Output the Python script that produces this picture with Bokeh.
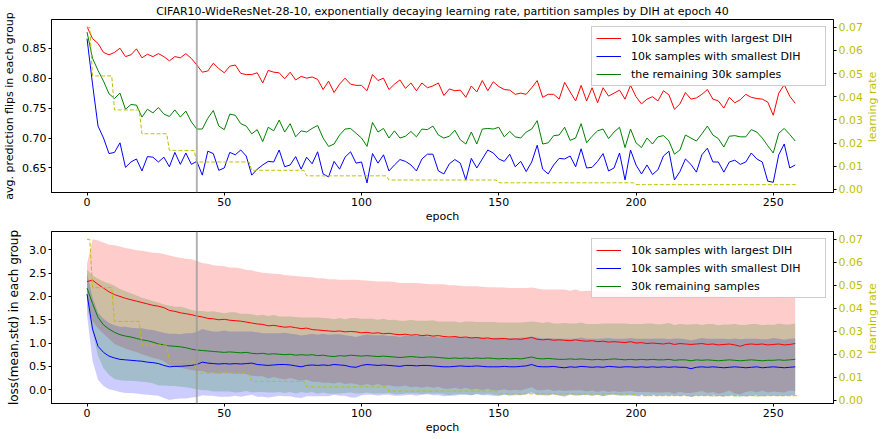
import math
import numpy as np
from bokeh.plotting import figure
from bokeh.models import (Range1d, LinearAxis, Span, Legend, LegendItem,
                          FixedTicker, PrintfTickFormatter)
from bokeh.core.properties import value
from bokeh.layouts import column, row
from bokeh.embed import file_html
from bokeh.resources import INLINE

FONT = "DejaVu Sans"
TITLE = ("CIFAR10-WideResNet-28-10, exponentially decaying learning rate, "
         "partition samples by DIH at epoch 40")
PARTITION_EPOCH = 40
N_EPOCHS = 260

# ---- learning-rate schedule (step decay) ----
LR_STEP_EPOCHS = [0, 2, 10, 20, 30, 40, 60, 80, 110, 150, 200]
LR_STEP_VALUES = [0.07, 0.049, 0.0343, 0.024, 0.0168, 0.0118, 0.0082, 0.0058, 0.004, 0.0028, 0.002]
LR_TICKS = [0.00, 0.01, 0.02, 0.03, 0.04, 0.05, 0.06, 0.07]

# ---- per-group measurements, every 2 epochs (0, 2, ..., 258) ----
EPOCHS = list(range(0, 259, 2))

# average prediction flips
FLIPS_LARGEST = [
    0.886, 0.866, 0.858, 0.843, 0.839, 0.843, 0.850, 0.836, 0.839, 0.849,
    0.834, 0.840, 0.836, 0.841, 0.836, 0.829, 0.836, 0.834, 0.841, 0.833,
    0.822, 0.810, 0.812, 0.825, 0.816, 0.809, 0.820, 0.822, 0.808, 0.806,
    0.806, 0.809, 0.792, 0.813, 0.810, 0.809, 0.799, 0.810, 0.797, 0.803,
    0.800, 0.802, 0.798, 0.781, 0.795, 0.776, 0.790, 0.800, 0.790, 0.788,
    0.788, 0.779, 0.806, 0.796, 0.800, 0.781, 0.790, 0.797, 0.783, 0.792,
    0.779, 0.792, 0.784, 0.787, 0.792, 0.771, 0.782, 0.779, 0.780, 0.768,
    0.787, 0.777, 0.796, 0.779, 0.794, 0.786, 0.781, 0.780, 0.773, 0.775,
    0.773, 0.784, 0.796, 0.768, 0.773, 0.773, 0.765, 0.793, 0.777, 0.762,
    0.788, 0.762, 0.784, 0.759, 0.784, 0.770, 0.775, 0.780, 0.765, 0.788,
    0.769, 0.757, 0.765, 0.769, 0.762, 0.779, 0.772, 0.748, 0.757, 0.776,
    0.765, 0.767, 0.773, 0.781, 0.765, 0.762, 0.750, 0.768, 0.759, 0.764,
    0.773, 0.768, 0.766, 0.765, 0.760, 0.738, 0.775, 0.789, 0.770, 0.758,
]
FLIPS_SMALLEST = [
    0.866, 0.790, 0.720, 0.700, 0.674, 0.676, 0.692, 0.651, 0.660, 0.665,
    0.645, 0.669, 0.668, 0.660, 0.668, 0.652, 0.676, 0.656, 0.675, 0.656,
    0.661, 0.638, 0.678, 0.674, 0.646, 0.650, 0.676, 0.672, 0.680, 0.670,
    0.638, 0.648, 0.655, 0.661, 0.660, 0.680, 0.652, 0.655, 0.669, 0.648,
    0.668, 0.657, 0.677, 0.640, 0.635, 0.661, 0.648, 0.668, 0.677, 0.658,
    0.660, 0.625, 0.674, 0.658, 0.672, 0.645, 0.655, 0.664, 0.661, 0.655,
    0.645, 0.665, 0.673, 0.673, 0.645, 0.640, 0.657, 0.664, 0.658, 0.630,
    0.666, 0.650, 0.665, 0.680, 0.675, 0.665, 0.661, 0.673, 0.652, 0.661,
    0.644, 0.660, 0.688, 0.648, 0.640, 0.655, 0.666, 0.665, 0.670, 0.652,
    0.682, 0.650, 0.651, 0.661, 0.674, 0.645, 0.650, 0.675, 0.630, 0.680,
    0.655, 0.640, 0.655, 0.639, 0.647, 0.670, 0.678, 0.630, 0.644, 0.665,
    0.656, 0.643, 0.672, 0.683, 0.660, 0.660, 0.643, 0.660, 0.663, 0.656,
    0.660, 0.675, 0.665, 0.660, 0.628, 0.626, 0.672, 0.690, 0.650, 0.655,
]
FLIPS_REMAINING = [
    0.877, 0.833, 0.813, 0.795, 0.774, 0.766, 0.775, 0.748, 0.756, 0.755,
    0.735, 0.748, 0.742, 0.751, 0.740, 0.736, 0.747, 0.735, 0.745, 0.727,
    0.715, 0.715, 0.733, 0.746, 0.720, 0.714, 0.740, 0.738, 0.724, 0.720,
    0.707, 0.714, 0.694, 0.718, 0.712, 0.730, 0.710, 0.724, 0.702, 0.712,
    0.710, 0.716, 0.721, 0.700, 0.686, 0.690, 0.705, 0.715, 0.716, 0.708,
    0.700, 0.686, 0.726, 0.710, 0.716, 0.700, 0.712, 0.700, 0.703, 0.711,
    0.702, 0.715, 0.714, 0.720, 0.705, 0.700, 0.703, 0.713, 0.697, 0.690,
    0.710, 0.690, 0.715, 0.716, 0.715, 0.718, 0.702, 0.711, 0.702, 0.700,
    0.710, 0.715, 0.729, 0.690, 0.692, 0.704, 0.705, 0.718, 0.696, 0.700,
    0.724, 0.692, 0.703, 0.712, 0.715, 0.699, 0.710, 0.718, 0.684, 0.715,
    0.692, 0.684, 0.700, 0.690, 0.702, 0.704, 0.695, 0.673, 0.680, 0.705,
    0.700, 0.695, 0.707, 0.720, 0.705, 0.699, 0.685, 0.703, 0.704, 0.702,
    0.702, 0.714, 0.710, 0.700, 0.687, 0.675, 0.708, 0.716, 0.706, 0.695,
]

# loss mean per group
LOSS_MEAN_LARGEST = [
    2.32, 2.35, 2.26, 2.18, 2.10, 2.04, 2.00, 1.96, 1.93, 1.90,
    1.87, 1.84, 1.81, 1.79, 1.76, 1.70, 1.68, 1.65, 1.63, 1.61,
    1.58, 1.56, 1.53, 1.52, 1.50, 1.51, 1.49, 1.48, 1.47, 1.45,
    1.43, 1.41, 1.40, 1.37, 1.38, 1.36, 1.34, 1.35, 1.33, 1.31,
    1.32, 1.29, 1.28, 1.27, 1.26, 1.25, 1.26, 1.24, 1.25, 1.24,
    1.22, 1.23, 1.21, 1.22, 1.20, 1.21, 1.19, 1.18, 1.19, 1.17,
    1.18, 1.16, 1.17, 1.15, 1.16, 1.14, 1.13, 1.14, 1.12, 1.13,
    1.11, 1.12, 1.10, 1.11, 1.09, 1.09, 1.10, 1.08, 1.09, 1.08,
    1.10, 1.12, 1.08, 1.07, 1.08, 1.06, 1.07, 1.06, 1.05, 1.07,
    1.05, 1.04, 1.05, 1.03, 1.04, 1.02, 1.03, 1.02, 1.01, 1.03,
    1.00, 1.01, 0.99, 1.00, 0.99, 0.98, 1.00, 0.97, 0.99, 0.98,
    0.97, 0.98, 0.99, 0.97, 0.98, 0.96, 0.97, 0.98, 0.96, 0.93,
    0.97, 0.98, 0.97, 0.98, 0.96, 0.97, 0.98, 0.96, 0.97, 0.99,
]
LOSS_MEAN_SMALLEST = [
    2.05, 1.30, 0.93, 0.80, 0.72, 0.68, 0.65, 0.64, 0.63, 0.62,
    0.61, 0.59, 0.58, 0.56, 0.52, 0.49, 0.50, 0.50, 0.51, 0.52,
    0.54, 0.59, 0.57, 0.56, 0.55, 0.56, 0.55, 0.56, 0.55, 0.56,
    0.57, 0.54, 0.53, 0.52, 0.53, 0.54, 0.54, 0.53, 0.51, 0.49,
    0.52, 0.53, 0.52, 0.53, 0.52, 0.54, 0.53, 0.52, 0.49, 0.48,
    0.52, 0.54, 0.53, 0.52, 0.53, 0.52, 0.51, 0.50, 0.52, 0.52,
    0.51, 0.52, 0.52, 0.51, 0.50, 0.49, 0.49, 0.50, 0.51, 0.50,
    0.50, 0.51, 0.50, 0.49, 0.49, 0.49, 0.50, 0.49, 0.49, 0.50,
    0.51, 0.54, 0.50, 0.49, 0.49, 0.50, 0.48, 0.47, 0.49, 0.48,
    0.50, 0.49, 0.48, 0.49, 0.48, 0.50, 0.49, 0.48, 0.49, 0.49,
    0.48, 0.49, 0.48, 0.49, 0.48, 0.49, 0.48, 0.49, 0.48, 0.48,
    0.45, 0.48, 0.49, 0.48, 0.49, 0.48, 0.47, 0.48, 0.49, 0.48,
    0.47, 0.48, 0.49, 0.47, 0.48, 0.49, 0.48, 0.47, 0.48, 0.49,
]
LOSS_MEAN_REMAINING = [
    2.18, 1.85, 1.55, 1.39, 1.30, 1.23, 1.18, 1.15, 1.13, 1.10,
    1.07, 1.05, 1.02, 0.98, 0.96, 0.94, 0.93, 0.92, 0.90, 0.87,
    0.85, 0.84, 0.83, 0.82, 0.81, 0.80, 0.81, 0.80, 0.79, 0.80,
    0.78, 0.77, 0.78, 0.76, 0.77, 0.76, 0.75, 0.76, 0.74, 0.75,
    0.74, 0.75, 0.73, 0.74, 0.72, 0.71, 0.73, 0.72, 0.74, 0.73,
    0.72, 0.73, 0.72, 0.71, 0.72, 0.71, 0.70, 0.69, 0.70, 0.71,
    0.70, 0.69, 0.70, 0.70, 0.69, 0.68, 0.67, 0.68, 0.67, 0.68,
    0.67, 0.68, 0.67, 0.68, 0.67, 0.66, 0.67, 0.66, 0.67, 0.66,
    0.68, 0.70, 0.67, 0.66, 0.67, 0.66, 0.65, 0.65, 0.66, 0.65,
    0.66, 0.65, 0.64, 0.65, 0.64, 0.65, 0.66, 0.65, 0.64, 0.65,
    0.64, 0.65, 0.64, 0.65, 0.64, 0.64, 0.65, 0.63, 0.64, 0.64,
    0.62, 0.64, 0.63, 0.64, 0.63, 0.62, 0.63, 0.64, 0.63, 0.62,
    0.63, 0.64, 0.63, 0.62, 0.63, 0.63, 0.64, 0.63, 0.64, 0.65,
]

# loss standard deviation per group
LOSS_STD_LARGEST = [
    0.38, 0.88, 0.94, 0.98, 1.01, 1.06, 1.07, 1.08, 1.09, 1.09,
    1.11, 1.12, 1.13, 1.14, 1.15, 1.18, 1.17, 1.18, 1.18, 1.19,
    1.18, 1.16, 1.17, 1.15, 1.16, 1.14, 1.13, 1.14, 1.13, 1.12,
    1.13, 1.12, 1.11, 1.13, 1.11, 1.12, 1.12, 1.10, 1.11, 1.12,
    1.10, 1.12, 1.11, 1.12, 1.11, 1.12, 1.10, 1.12, 1.11, 1.12,
    1.13, 1.11, 1.12, 1.10, 1.12, 1.11, 1.12, 1.11, 1.10, 1.12,
    1.11, 1.12, 1.10, 1.11, 1.10, 1.12, 1.11, 1.10, 1.11, 1.09,
    1.11, 1.10, 1.11, 1.09, 1.11, 1.10, 1.09, 1.10, 1.09, 1.10,
    1.08, 1.07, 1.09, 1.08, 1.07, 1.09, 1.08, 1.09, 1.07, 1.08,
    1.06, 1.08, 1.07, 1.08, 1.06, 1.07, 1.06, 1.07, 1.05, 1.06,
    1.05, 1.06, 1.04, 1.06, 1.05, 1.04, 1.05, 1.06, 1.03, 1.05,
    1.04, 1.03, 1.02, 1.04, 1.03, 1.05, 1.03, 1.00, 1.04, 1.03,
    1.02, 1.01, 1.03, 1.00, 1.02, 1.01, 1.03, 1.02, 0.99, 1.02,
]
LOSS_STD_SMALLEST = [
    0.45, 0.68, 0.72, 0.72, 0.71, 0.70, 0.70, 0.71, 0.70, 0.70,
    0.71, 0.70, 0.70, 0.69, 0.70, 0.71, 0.70, 0.69, 0.70, 0.69,
    0.70, 0.71, 0.70, 0.69, 0.70, 0.71, 0.70, 0.69, 0.70, 0.69,
    0.68, 0.69, 0.68, 0.69, 0.68, 0.67, 0.68, 0.67, 0.68, 0.67,
    0.66, 0.67, 0.66, 0.67, 0.66, 0.65, 0.66, 0.65, 0.66, 0.65,
    0.64, 0.65, 0.64, 0.65, 0.64, 0.63, 0.64, 0.63, 0.64, 0.63,
    0.64, 0.63, 0.62, 0.63, 0.62, 0.63, 0.62, 0.63, 0.62, 0.61,
    0.62, 0.61, 0.62, 0.61, 0.62, 0.63, 0.61, 0.62, 0.61, 0.62,
    0.61, 0.60, 0.62, 0.61, 0.62, 0.60, 0.61, 0.62, 0.60, 0.61,
    0.62, 0.60, 0.61, 0.60, 0.62, 0.61, 0.60, 0.61, 0.60, 0.62,
    0.61, 0.60, 0.61, 0.60, 0.62, 0.61, 0.60, 0.61, 0.62, 0.60,
    0.61, 0.60, 0.62, 0.61, 0.60, 0.61, 0.62, 0.60, 0.61, 0.60,
    0.62, 0.61, 0.60, 0.61, 0.60, 0.62, 0.61, 0.60, 0.61, 0.61,
]
LOSS_STD_REMAINING = [
    0.40, 0.60, 0.83, 0.93, 0.98, 1.00, 0.98, 0.96, 0.94, 0.92,
    0.90, 0.89, 0.88, 0.89, 0.87, 0.86, 0.85, 0.86, 0.85, 0.84,
    0.84, 0.85, 0.84, 0.86, 0.85, 0.84, 0.85, 0.86, 0.84, 0.83,
    0.84, 0.82, 0.83, 0.82, 0.83, 0.81, 0.82, 0.81, 0.82, 0.80,
    0.81, 0.80, 0.82, 0.80, 0.81, 0.80, 0.81, 0.79, 0.80, 0.81,
    0.80, 0.79, 0.80, 0.79, 0.80, 0.78, 0.80, 0.79, 0.78, 0.79,
    0.78, 0.79, 0.78, 0.79, 0.77, 0.78, 0.79, 0.78, 0.77, 0.78,
    0.79, 0.77, 0.78, 0.77, 0.78, 0.78, 0.77, 0.78, 0.77, 0.78,
    0.77, 0.76, 0.78, 0.77, 0.78, 0.76, 0.77, 0.78, 0.76, 0.77,
    0.78, 0.76, 0.77, 0.76, 0.78, 0.77, 0.76, 0.77, 0.78, 0.76,
    0.77, 0.76, 0.78, 0.77, 0.76, 0.77, 0.78, 0.76, 0.77, 0.76,
    0.78, 0.77, 0.76, 0.77, 0.78, 0.76, 0.77, 0.76, 0.78, 0.77,
    0.76, 0.77, 0.78, 0.76, 0.77, 0.76, 0.78, 0.77, 0.76, 0.77,
]

LABEL_LARGEST = "10k samples with largest DIH"
LABEL_SMALLEST = "10k samples with smallest DIH"
LABELS_REST = ["the remaining 30k samples", "30k remaining samples"]
LR_LABEL = "learning rate"
X_TICKS = [0, 50, 100, 150, 200, 250]
FLIP_TICKS = [0.65, 0.70, 0.75, 0.80, 0.85]
LOSS_TICKS = [0.0, 0.5, 1.0, 1.5, 2.0, 2.5, 3.0]

RED, BLUE, GREEN, OLIVE = "#ff0000", "#0000ff", "#008000", "#bfbf00"

X_RANGE = (-12.95, 271.95)
LR_RANGE = (-0.0014, 0.0734)

# page geometry (px): two stacked panels plus a narrow strip on the right
# that carries the "learning rate" titles, written bottom-to-top
PANEL_W, STRIP_W = 865, 18
TOP_H, BOTTOM_H = 225, 211
BORDER_L, BORDER_R = 51, 29
TOP_FRAME = (19, 194)          # frame top/bottom inside the upper panel
BOTTOM_TOP_PAD, AXIS_H = 6, 31

# learning rate for every epoch
lr_epochs = list(range(N_EPOCHS))
lr_per_epoch = []
for e in lr_epochs:
    k = max(i for i, s in enumerate(LR_STEP_EPOCHS) if s <= e)
    lr_per_epoch.append(LR_STEP_VALUES[k])


def style_axes(p, ylabel, ylabel_size, ylabel_standoff):
    p.xgrid.visible = False
    p.ygrid.visible = False
    p.outline_line_color = "black"
    p.outline_line_alpha = 1.0
    p.outline_line_width = 1
    p.background_fill_color = "white"
    p.border_fill_color = "white"
    p.xaxis.axis_label = "epoch"
    p.yaxis.axis_label = ylabel
    p.xaxis.ticker = FixedTicker(ticks=X_TICKS)
    for ax in p.xaxis + p.yaxis:
        ax.axis_line_color = "black"
        ax.major_tick_line_color = "black"
        ax.major_tick_in = 0
        ax.major_tick_out = 3
        ax.minor_tick_in = 0
        ax.minor_tick_out = 0
        ax.major_label_standoff = 2
        ax.major_label_text_font = FONT
        ax.major_label_text_font_size = "11px"
        ax.major_label_text_color = "black"
        ax.axis_label_text_font = FONT
        ax.axis_label_text_font_style = "normal"
        ax.axis_label_text_color = "black"
    p.xaxis.axis_label_text_font_size = "11px"
    p.xaxis.axis_label_standoff = 1
    p.yaxis.axis_label_text_font_size = ylabel_size
    p.yaxis.axis_label_standoff = ylabel_standoff


def add_lr_axis(p):
    p.extra_y_ranges = {"lr": Range1d(*LR_RANGE)}
    ax = LinearAxis(y_range_name="lr")
    ax.ticker = FixedTicker(ticks=LR_TICKS)
    ax.formatter = PrintfTickFormatter(format="%.2f")
    ax.axis_line_color = "black"
    ax.major_tick_line_color = "black"
    ax.major_tick_in = 0
    ax.major_tick_out = 3
    ax.minor_tick_in = 0
    ax.minor_tick_out = 0
    ax.major_label_standoff = 2
    ax.major_label_text_font = FONT
    ax.major_label_text_font_size = "11px"
    ax.major_label_text_color = OLIVE
    p.add_layout(ax, "right")
    p.line(lr_epochs, lr_per_epoch, y_range_name="lr", line_color=OLIVE,
           line_width=1, line_dash="4 2")


def add_partition_marker(p):
    p.add_layout(Span(location=PARTITION_EPOCH, dimension="height",
                      line_color="#999999", line_alpha=0.75, line_width=2))


def add_legend(p, renderers, labels):
    legend = Legend(
        items=[LegendItem(label=l, renderers=[r]) for l, r in zip(labels, renderers)],
        location="top_right",
        label_text_font=FONT, label_text_font_size="11px", label_text_color="black",
        border_line_color="#cccccc", border_line_alpha=1.0, border_line_width=1,
        background_fill_color="white", background_fill_alpha=0.85,
        margin=7, padding=4, spacing=4, label_height=14, glyph_height=14,
        glyph_width=25, label_standoff=10, label_width=190,
    )
    p.add_layout(legend)


# ---------- top: prediction flips ----------
p1 = figure(width=PANEL_W, height=TOP_H, output_backend="svg", toolbar_location=None,
            x_range=Range1d(*X_RANGE), y_range=Range1d(0.609, 0.898),
            min_border_left=BORDER_L, min_border_right=BORDER_R, min_border_top=0,
            min_border_bottom=0)
p1.title.text = TITLE
p1.title.align = "center"
p1.title.text_font = FONT
p1.title.text_font_size = "11px"
p1.title.text_font_style = "normal"
p1.title.text_color = "black"
p1.title.standoff = 4
style_axes(p1, "avg. prediction flips in each group", "11px", 3)
p1.yaxis[0].ticker = FixedTicker(ticks=FLIP_TICKS)
p1.yaxis[0].formatter = PrintfTickFormatter(format="%.2f")

add_partition_marker(p1)
r1 = p1.line(EPOCHS, FLIPS_LARGEST, line_color=RED, line_width=1)
r2 = p1.line(EPOCHS, FLIPS_SMALLEST, line_color=BLUE, line_width=1)
r3 = p1.line(EPOCHS, FLIPS_REMAINING, line_color=GREEN, line_width=1)
add_legend(p1, [r1, r2, r3], [LABEL_LARGEST, LABEL_SMALLEST, LABELS_REST[0]])
add_lr_axis(p1)

# ---------- bottom: loss mean +/- std ----------
p2 = figure(width=PANEL_W, height=BOTTOM_H, output_backend="svg", toolbar_location=None,
            x_range=Range1d(*X_RANGE), y_range=Range1d(-0.297, 3.394),
            min_border_left=BORDER_L, min_border_right=BORDER_R,
            min_border_top=BOTTOM_TOP_PAD, min_border_bottom=0)
style_axes(p2, "loss(mean,std) in each group", "12px", 5)
p2.yaxis[0].ticker = FixedTicker(ticks=LOSS_TICKS)
p2.yaxis[0].formatter = PrintfTickFormatter(format="%.1f")

groups = [
    (LOSS_MEAN_LARGEST, LOSS_STD_LARGEST, RED, LABEL_LARGEST),
    (LOSS_MEAN_SMALLEST, LOSS_STD_SMALLEST, BLUE, LABEL_SMALLEST),
    (LOSS_MEAN_REMAINING, LOSS_STD_REMAINING, GREEN, LABELS_REST[1]),
]
for mean, std, color, _ in groups:
    m, s = np.array(mean), np.array(std)
    p2.varea(x=EPOCHS, y1=m - s, y2=m + s, fill_color=color, fill_alpha=0.2)
add_partition_marker(p2)
mean_lines = [p2.line(EPOCHS, mean, line_color=color, line_width=1)
              for mean, _, color, _ in groups]
add_legend(p2, mean_lines, [g[3] for g in groups])
add_lr_axis(p2)

# ---------- right strip: secondary-axis titles ----------
total_h = TOP_H + BOTTOM_H
top_center = (TOP_FRAME[0] + TOP_FRAME[1]) / 2
bottom_center = TOP_H + (BOTTOM_TOP_PAD + (BOTTOM_H - AXIS_H)) / 2
p3 = figure(width=STRIP_W, height=total_h, output_backend="svg", toolbar_location=None,
            x_range=Range1d(0, STRIP_W), y_range=Range1d(total_h, 0),
            min_border=0)
p3.axis.visible = False
p3.xgrid.visible = False
p3.ygrid.visible = False
p3.outline_line_color = None
p3.background_fill_color = "white"
p3.border_fill_color = "white"
p3.text(x=[STRIP_W / 2 - 2, STRIP_W / 2 - 2], y=[top_center, bottom_center],
        text=[LR_LABEL, LR_LABEL], angle=math.pi / 2, text_align="center",
        text_baseline="middle", text_color=OLIVE, text_font=value(FONT),
        text_font_size="11px")

layout = row(column(p1, p2, spacing=0), p3, spacing=0)
open("out.html", "w").write(file_html(layout, INLINE))
